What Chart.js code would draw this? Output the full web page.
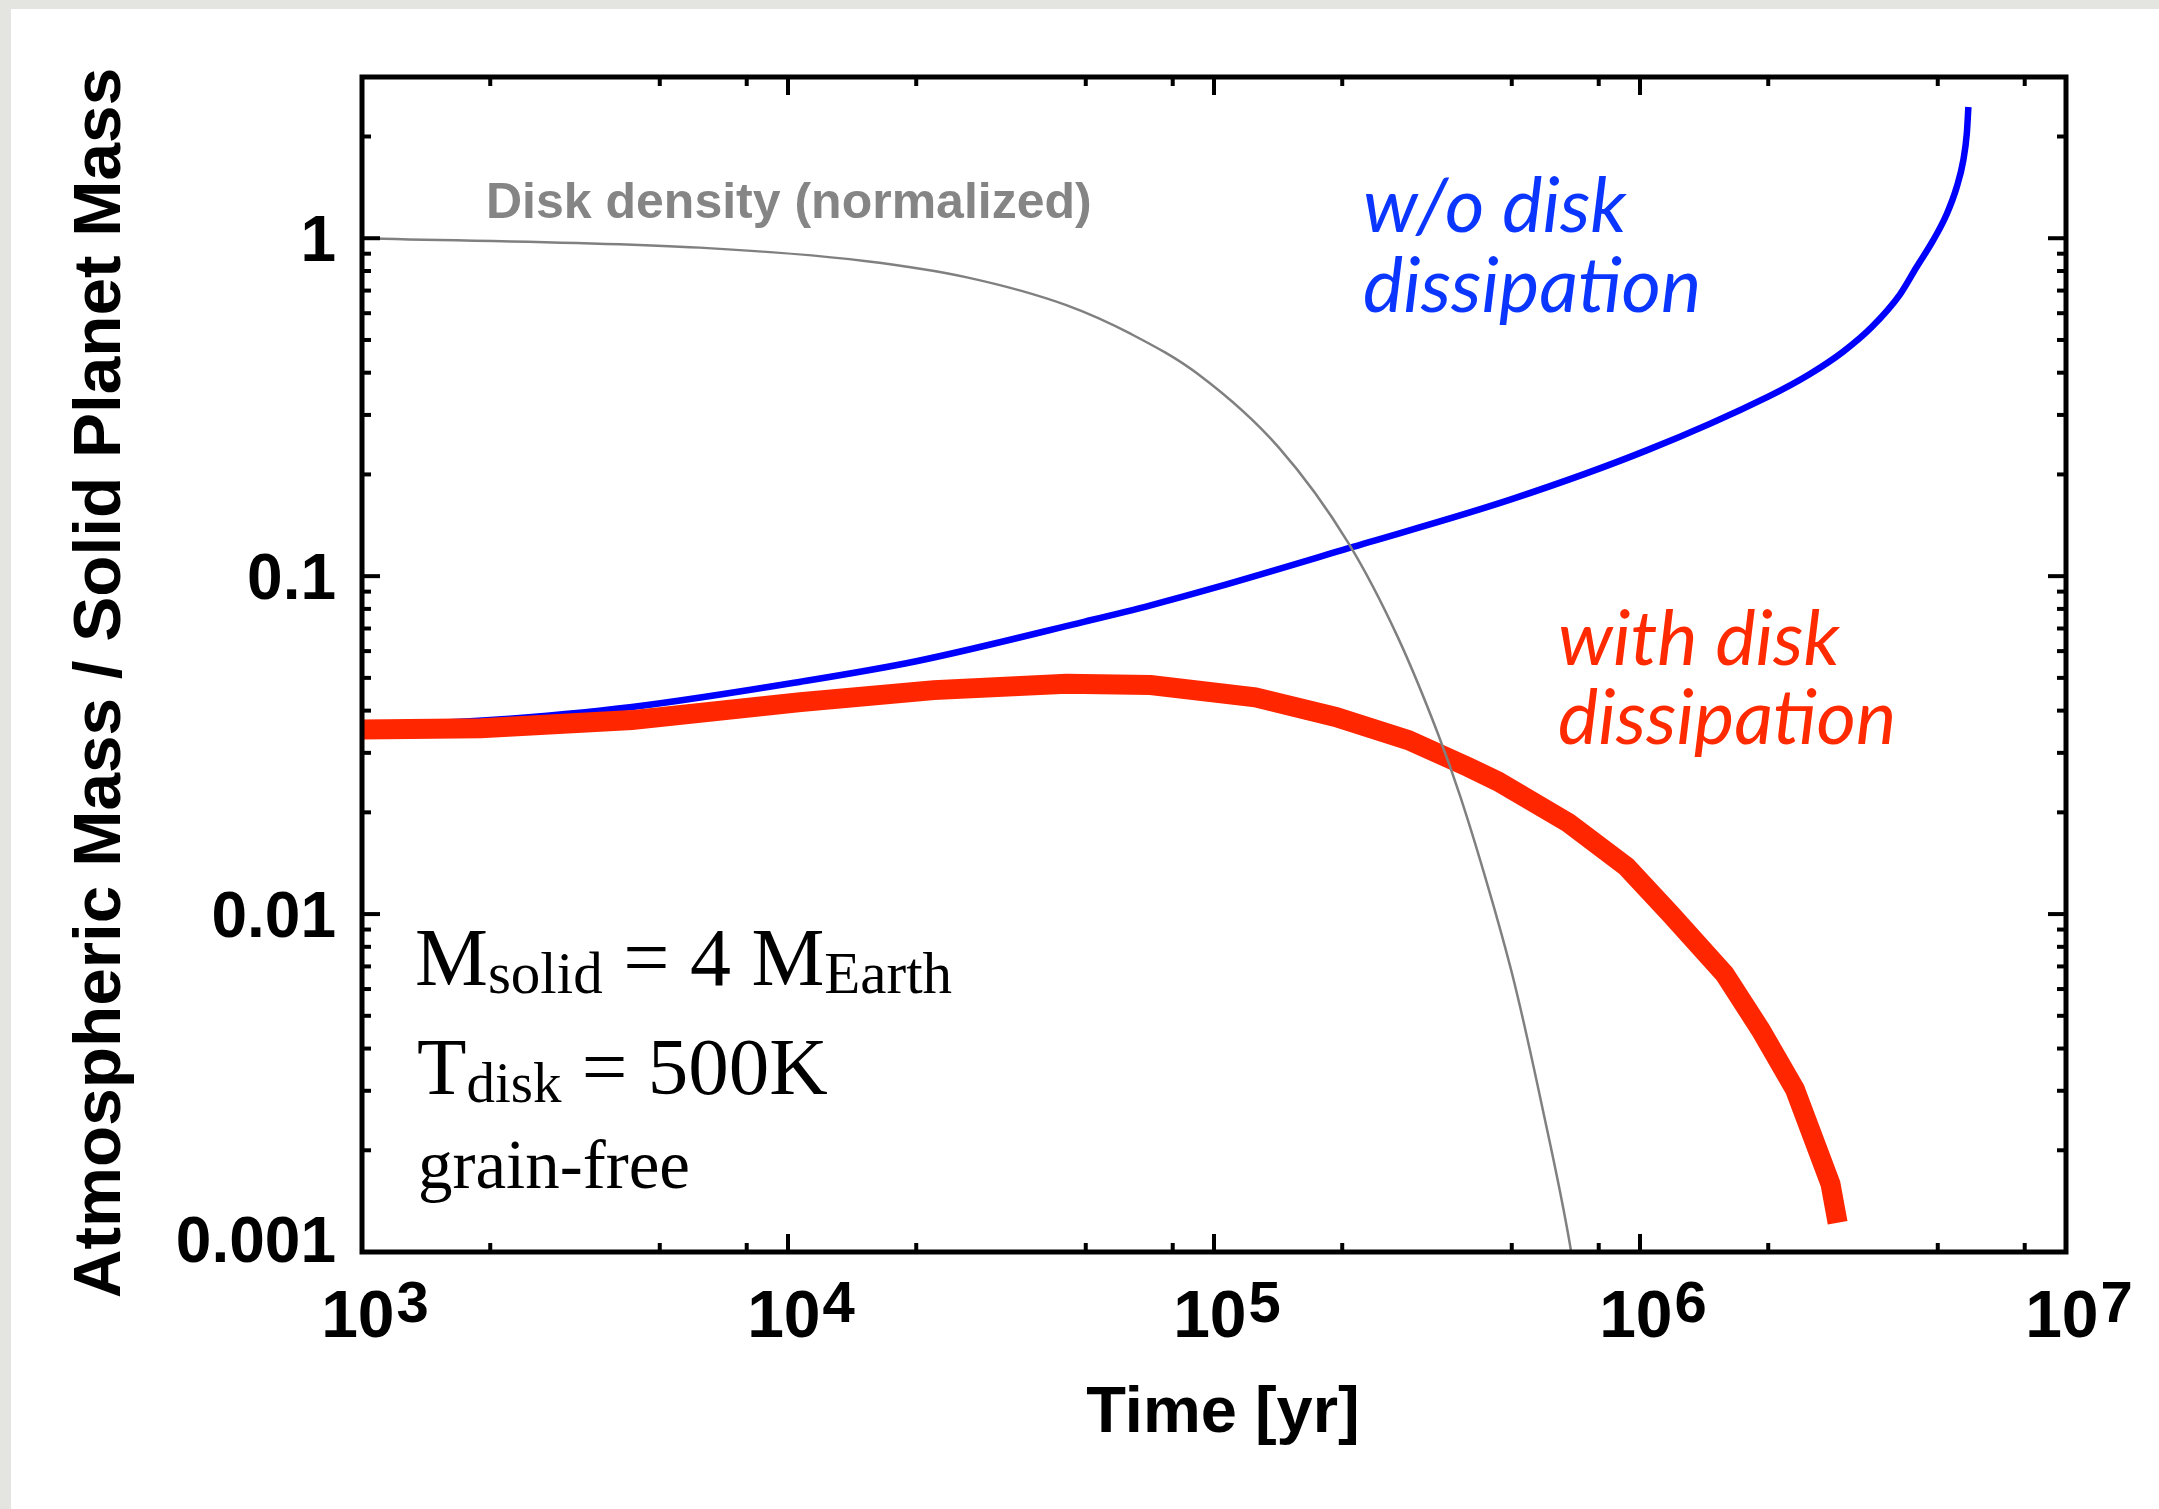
<!DOCTYPE html>
<html>
<head>
<meta charset="utf-8">
<script src="https://cdn.jsdelivr.net/npm/chart.js@4"></script>
<style>
    html, body { margin: 0; padding: 0; width: 2159px; height: 1509px; overflow: hidden; background: #e4e4e0; }
    #panel { position: absolute; left: 11px; top: 9px; width: 2148px; height: 1500px; background: #fff; }
    #massChart { position: absolute; left: 0; top: 0; }
</style>
</head>
<body>
<div id="panel"></div>
<canvas id="massChart" width="2159" height="1509"></canvas>
<script>
// atmospheric mass without disk dissipation (blue)
const noDissTime = [1e3, 2e3, 4.3e3, 1.07e4, 2e4, 5e4, 7.1e4, 1e5, 2.07e5, 5e5, 1.04e6, 2e6, 2.5e6, 3e6, 3.5e6, 4.07e6, 4.46e6, 4.88e6, 5.25e6, 5.54e6, 5.74e6, 5.85e6, 5.9e6];
const noDissMass = [0.036, 0.0375, 0.041, 0.0487, 0.056, 0.0735, 0.082, 0.0923, 0.121, 0.169, 0.236, 0.34, 0.396, 0.462, 0.546, 0.68, 0.822, 0.987, 1.18, 1.418, 1.70, 2.04, 2.446];

// atmospheric mass with disk dissipation (red)
const dissTime = [1e3, 1.9e3, 4.3e3, 1.07e4, 2.2e4, 4.5e4, 7.1e4, 1.25e5, 1.93e5, 2.86e5, 3.96e5, 4.64e5, 6.8e5, 9.3e5, 1.18e6, 1.58e6, 1.92e6, 2.31e6, 2.8e6, 2.91e6];
const dissMass = [0.0352, 0.0355, 0.0375, 0.0424, 0.046, 0.048, 0.0476, 0.0438, 0.0383, 0.0327, 0.0272, 0.0247, 0.0186, 0.0138, 0.0100, 0.00664, 0.00454, 0.00303, 0.00159, 0.00122];

// normalized disk density (gray)
const diskTime = [1e3, 6.2e3, 1.53e4, 2.63e4, 4.5e4, 6.4e4, 9.2e4, 1.42e5, 2.07e5, 2.7e5, 3.36e5, 3.79e5, 4.5e5, 5.08e5, 5.89e5, 6.85e5, 6.95e5];
const diskDensity = [1.0, 0.938, 0.855, 0.766, 0.634, 0.52, 0.395, 0.24, 0.125, 0.066, 0.034, 0.0222, 0.0109, 0.0062, 0.0027, 0.00105, 0.00093];

// axis ticks
const xMajor = [1e3, 1e4, 1e5, 1e6, 1e7];
const xExponents = ['3', '4', '5', '6', '7'];
const xMinor = [2e3, 5e3, 8e3, 2e4, 5e4, 8e4, 2e5, 5e5, 8e5, 2e6, 5e6, 8e6];
const yMajor = [0.001, 0.01, 0.1, 1];
const yLabels = ['0.001', '0.01', '0.1', '1'];
const yMinor = [];
[0.001, 0.01, 0.1].forEach(d => { for (let k = 2; k <= 9; k++) yMinor.push(+(d * k).toPrecision(2)); });
yMinor.push(2);

const toPoints = (xs, ys) => xs.map((v, i) => ({ x: v, y: ys[i] }));

const SANS = '"Liberation Sans", Arial, sans-serif';
const SERIF = '"Liberation Serif", "Times New Roman", serif';
const ITAL = 'Lato, "Open Sans", sans-serif';

// frame, ticks and all the labels
const framePlugin = {
    id: 'framePlugin',
    afterDatasetsDraw(chart) {
        const { ctx, chartArea: a, scales: { x, y } } = chart;
        ctx.save();
        ctx.strokeStyle = '#000';
        ctx.lineCap = 'butt';
        ctx.lineWidth = 4;
        const tick = (px, py, dx, dy) => {
            ctx.beginPath(); ctx.moveTo(px, py); ctx.lineTo(px + dx, py + dy); ctx.stroke();
        };
        xMinor.forEach(v => {
            const px = x.getPixelForValue(v);
            tick(px, a.bottom, 0, -9); tick(px, a.top, 0, 9);
        });
        xMajor.forEach(v => {
            const px = x.getPixelForValue(v);
            tick(px, a.bottom, 0, -18); tick(px, a.top, 0, 18);
        });
        yMinor.forEach(v => {
            const py = y.getPixelForValue(v);
            tick(a.left, py, 9, 0); tick(a.right, py, -9, 0);
        });
        yMajor.forEach(v => {
            const py = y.getPixelForValue(v);
            tick(a.left, py, 18, 0); tick(a.right, py, -18, 0);
        });
        ctx.lineWidth = 5;
        ctx.strokeRect(a.left, a.top, a.right - a.left, a.bottom - a.top);
        ctx.restore();
    },
    afterDraw(chart) {
        const { ctx, scales: { x, y } } = chart;
        ctx.save();
        ctx.fillStyle = '#000';
        ctx.textBaseline = 'alphabetic';

        // y tick labels
        ctx.font = 'bold 64px ' + SANS;
        ctx.textAlign = 'right';
        yMajor.forEach((v, i) => {
            let py = y.getPixelForValue(v) + 23;
            if (i === 0) py -= 13;
            ctx.fillText(yLabels[i], 336, py);
        });

        // x tick labels, 10 with exponent
        ctx.textAlign = 'left';
        xMajor.forEach((v, i) => {
            const px = x.getPixelForValue(v);
            ctx.font = 'bold 66px ' + SANS;
            const wBase = ctx.measureText('10').width;
            ctx.font = 'bold 58px ' + SANS;
            const wExp = ctx.measureText(xExponents[i]).width;
            const x0 = px + 12 - (wBase + wExp) / 2;
            ctx.font = 'bold 66px ' + SANS;
            ctx.fillText('10', x0, 1337);
            ctx.font = 'bold 58px ' + SANS;
            ctx.fillText(xExponents[i], x0 + wBase + 2, 1322);
        });

        // axis titles
        ctx.font = 'bold 65px ' + SANS;
        ctx.textAlign = 'center';
        ctx.fillText('Time [yr]', 1223, 1432);
        ctx.save();
        ctx.translate(120, 683);
        ctx.rotate(-Math.PI / 2);
        ctx.font = 'bold 67.5px ' + SANS;
        ctx.fillText('Atmospheric Mass / Solid Planet Mass', 0, 0);
        ctx.restore();

        // curve labels
        ctx.textAlign = 'left';
        ctx.font = 'bold 50px ' + SANS;
        ctx.fillStyle = '#858585';
        ctx.fillText('Disk density (normalized)', 486, 218);

        ctx.font = 'italic 76px ' + ITAL;
        ctx.fillStyle = '#0a36ff';
        ctx.fillText('w/o disk', 1363, 232);
        ctx.fillText('dissipation', 1363, 312);
        ctx.fillStyle = '#ff2a00';
        ctx.fillText('with disk', 1558, 665);
        ctx.fillText('dissipation', 1558, 744);

        // parameters
        ctx.fillStyle = '#000';
        const run = (parts, x0, base, bigPx, smallPx) => {
            let cx = x0;
            parts.forEach(([txt, sub]) => {
                ctx.font = (sub ? smallPx : bigPx) + 'px ' + SERIF;
                ctx.fillText(txt, cx, sub ? base + 8 : base);
                cx += ctx.measureText(txt).width;
            });
        };
        run([['M', 0], ['solid', 1], [' = 4 M', 0], ['Earth', 1]], 415, 985, 82, 59);
        run([['T', 0], ['disk', 1], [' = 500K', 0]], 417, 1094, 81, 57);
        ctx.font = '69px ' + SERIF;
        ctx.fillText('grain-free', 418, 1188);
        ctx.restore();
    }
};

new Chart(document.getElementById('massChart'), {
    type: 'line',
    data: {
        datasets: [
            {
                label: 'Disk density (normalized)',
                data: toPoints(diskTime, diskDensity),
                borderColor: '#808080', borderWidth: 2.5,
                pointRadius: 0, cubicInterpolationMode: 'monotone', order: 0
            },
            {
                label: 'with disk dissipation',
                data: toPoints(dissTime, dissMass),
                borderColor: '#ff2600', borderWidth: 20,
                pointRadius: 0, tension: 0, borderCapStyle: 'butt', order: 1
            },
            {
                label: 'w/o disk dissipation',
                data: toPoints(noDissTime, noDissMass),
                borderColor: '#0000ff', borderWidth: 6.5,
                pointRadius: 0, cubicInterpolationMode: 'monotone', order: 2
            }
        ]
    },
    options: {
        responsive: false,
        animation: false,
        devicePixelRatio: 1,
        layout: { padding: { left: 362, right: 93, top: 77, bottom: 257 } },
        plugins: { legend: { display: false }, tooltip: { enabled: false } },
        scales: {
            x: { type: 'logarithmic', min: 1e3, max: 1e7, display: false },
            y: { type: 'logarithmic', min: 1e-3, max: 3, display: false }
        }
    },
    plugins: [framePlugin]
});
</script>
</body>
</html>
